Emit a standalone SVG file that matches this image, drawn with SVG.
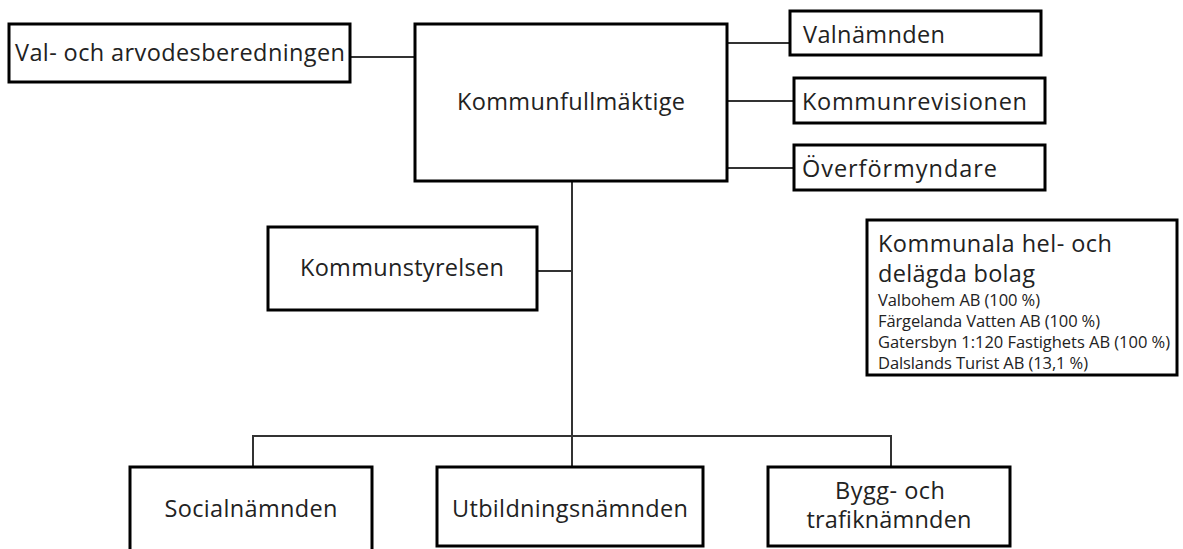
<svg xmlns="http://www.w3.org/2000/svg" width="1183" height="549" viewBox="0 0 1183 549">
<style>
.box{fill:#fff;stroke:#000;stroke-width:3}
.con{fill:none;stroke:#333;stroke-width:2}
.t{font-family:"Open Sans","Liberation Sans",sans-serif;fill:#222;font-size:23.5px}
.c{text-anchor:middle}
.sm{font-size:16.5px}
</style>
<rect width="1183" height="549" fill="#fff"/>
<g id="connectors">
<line class="con" x1="350" y1="57" x2="415" y2="57"/>
<line class="con" x1="727" y1="43" x2="790" y2="43"/>
<line class="con" x1="727" y1="101" x2="794" y2="101"/>
<line class="con" x1="727" y1="168" x2="794" y2="168"/>
<line class="con" x1="572" y1="181" x2="572" y2="467"/>
<line class="con" x1="537" y1="271" x2="572" y2="271"/>
<polyline class="con" points="253,467 253,436 891,436 891,467"/>
</g>
<g id="val-arvode">
<rect class="box" x="9" y="24" width="341" height="58"/>
<text class="t c" x="180" y="61" textLength="330">Val- och arvodesberedningen</text>
</g>
<g id="kommunfullmaktige">
<rect class="box" x="415" y="24" width="312" height="157"/>
<text class="t c" x="571" y="110" textLength="228">Kommunfullmäktige</text>
</g>
<g id="valnamnden">
<rect class="box" x="790" y="11" width="251" height="44"/>
<text class="t" x="803" y="43" textLength="142">Valnämnden</text>
</g>
<g id="kommunrevisionen">
<rect class="box" x="794" y="78" width="251" height="45"/>
<text class="t" x="802" y="110" textLength="225">Kommunrevisionen</text>
</g>
<g id="overformyndare">
<rect class="box" x="794" y="145" width="251" height="45"/>
<text class="t" x="802" y="177" textLength="195">Överförmyndare</text>
</g>
<g id="kommunstyrelsen">
<rect class="box" x="268" y="227" width="269" height="83"/>
<text class="t c" x="402" y="276" textLength="204">Kommunstyrelsen</text>
</g>
<g id="bolag">
<rect class="box" x="867" y="220" width="310" height="155"/>
<text class="t" x="878" y="252" textLength="234">Kommunala hel- och</text>
<text class="t" x="878" y="282" textLength="157">delägda bolag</text>
<text class="t sm" x="878" y="306" textLength="162">Valbohem AB (100 %)</text>
<text class="t sm" x="878" y="327" textLength="222">Färgelanda Vatten AB (100 %)</text>
<text class="t sm" x="878" y="348" textLength="292">Gatersbyn 1:120 Fastighets AB (100 %)</text>
<text class="t sm" x="878" y="369" textLength="210">Dalslands Turist AB (13,1 %)</text>
</g>
<g id="socialnamnden">
<rect class="box" x="130" y="467" width="242" height="95"/>
<text class="t c" x="251" y="517" textLength="173">Socialnämnden</text>
</g>
<g id="utbildningsnamnden">
<rect class="box" x="437" y="467" width="266" height="79"/>
<text class="t c" x="570" y="517" textLength="236">Utbildningsnämnden</text>
</g>
<g id="bygg">
<rect class="box" x="768" y="467" width="242" height="79"/>
<text class="t c" x="890" y="499" textLength="110">Bygg- och</text>
<text class="t c" x="889" y="528" textLength="165">trafiknämnden</text>
</g>
</svg>
